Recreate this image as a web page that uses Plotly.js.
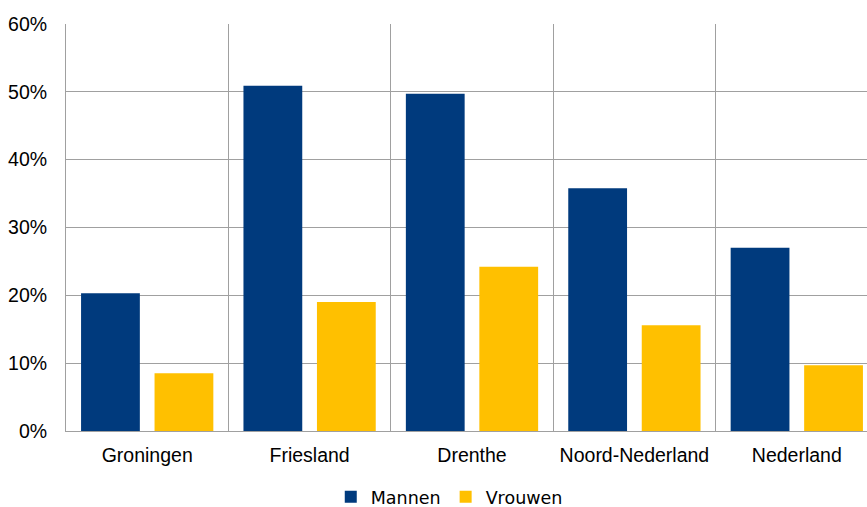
<!DOCTYPE html>
<html>
<head>
<meta charset="utf-8">
<script src="https://cdn.plot.ly/plotly-3.0.1.min.js"></script>
<style>html,body{margin:0;padding:0;overflow:hidden;background:#fff;}</style>
</head>
<body>
<div id="chart"></div>
<script>
var categories = ["Groningen", "Friesland", "Drenthe", "Noord-Nederland", "Nederland"];
var mannen = [20.3, 50.9, 49.7, 35.8, 27.0];
var vrouwen = [8.5, 19.0, 24.2, 15.6, 9.7];
var yTicks = [0, 10, 20, 30, 40, 50, 60];

var data = [
  {type: "bar", name: "Mannen", x: categories, y: mannen, marker: {color: "#003A7D"}, hoverinfo: "skip"},
  {type: "bar", name: "Vrouwen", x: categories, y: vrouwen, marker: {color: "#FFC000"}, hoverinfo: "skip"}
];
var layout = {
  width: 880, height: 507,
  margin: {l: 66, r: 2, t: 24, b: 76},
  paper_bgcolor: "#fff", plot_bgcolor: "#fff",
  barmode: "group", bargap: 0.095, bargroupgap: 0.2,
  font: {family: "Liberation Sans, Arial, sans-serif", size: 19, color: "#000"},
  xaxis: {
    type: "category", tickson: "boundaries", showgrid: true, gridcolor: "#A0A0A0", gridwidth: 1,
    showline: true, linecolor: "#A0A0A0", linewidth: 1, ticks: "", ticklabelstandoff: 7,
    tickfont: {size: 19.5}, zeroline: false, automargin: false
  },
  yaxis: {
    range: [0, 60], tickvals: yTicks, ticktext: yTicks.map(function(v){return v + "%";}),
    showgrid: true, gridcolor: "#A0A0A0", gridwidth: 1,
    showline: true, linecolor: "#A0A0A0", linewidth: 1, ticks: "", ticklabelstandoff: 14,
    tickfont: {size: 19.5}, zeroline: false, automargin: false
  },
  showlegend: true,
  legend: {orientation: "h", x: 0.472, xanchor: "center", yref: "container", y: 0.02, yanchor: "middle",
    font: {family: "DejaVu Sans, sans-serif", size: 17.5}, itemwidth: 30, tracegroupgap: 0}
};
Plotly.newPlot("chart", data, layout, {displayModeBar: false, staticPlot: true});
</script>
</body>
</html>
